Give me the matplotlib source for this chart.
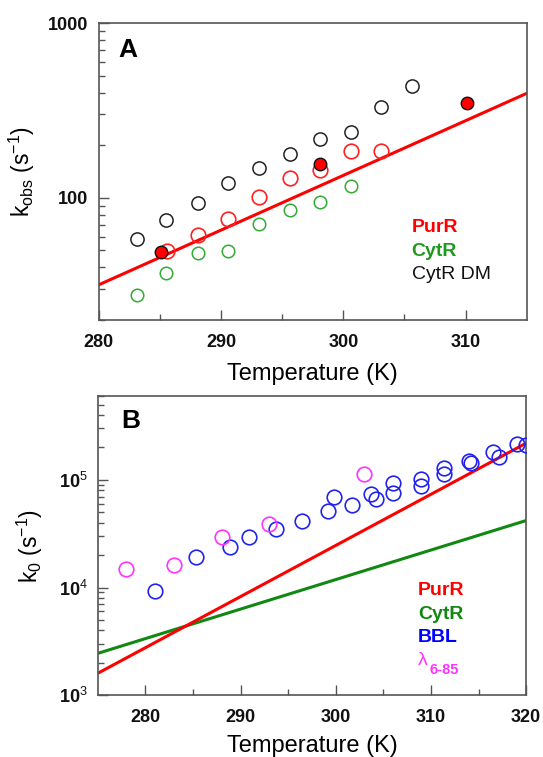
import matplotlib
matplotlib.use("Agg")
import matplotlib.pyplot as plt
from matplotlib.ticker import LogLocator, NullFormatter, FixedLocator, FixedFormatter

plt.rcParams['font.family'] = ['Liberation Sans', 'DejaVu Sans']
plt.rcParams['mathtext.fontset'] = 'custom'
plt.rcParams['mathtext.rm'] = 'Liberation Sans'
plt.rcParams['mathtext.it'] = 'Liberation Sans:italic'
plt.rcParams['mathtext.bf'] = 'Liberation Sans:bold'

# panel A: observed relaxation rates
cytrdm_T = [283.1, 285.5, 288.1, 290.6, 293.1, 295.6, 298.1, 300.6, 303.1, 305.6]
cytrdm_k = [58.4, 74.6, 93.7, 121.7, 148, 178.8, 217.6, 236.6, 329.6, 437.7]
purr_T = [285.6, 288.1, 290.6, 293.1, 295.6, 298.1, 300.6, 303.1]
purr_k = [49.3, 61.0, 75.3, 100.5, 130, 145, 186, 186]
purr_fill_T = [285.1, 298.1, 310.1]
purr_fill_k = [49.1, 156.8, 350.5]
cytr_T = [283.1, 285.5, 288.1, 290.6, 293.1, 295.6, 298.1, 300.6]
cytr_k = [27.7, 37.1, 48.6, 49.7, 70.8, 85.1, 94.1, 117.6]
fitA_T = [280, 315]
fitA_k = [31.8, 396]

# panel B: pre-exponential rates
lam_T = [278.0, 283.0, 288.0, 293.0, 303.0]
lam_k = [14900, 16250, 29400, 38800, 114400]
bbl_T = [281.0, 285.3, 288.9, 290.9, 293.7, 296.5, 299.2, 299.8, 301.7, 303.7,
         304.2, 306.0, 306.0, 309.0, 309.0, 311.4, 311.4, 314.0, 314.2, 316.5,
         317.1, 319.0, 320.0]
bbl_k = [9310, 19100, 24000, 29700, 35100, 41600, 51900, 69000, 58600, 74100,
         66200, 93100, 76200, 101500, 88000, 128400, 113000, 151000, 144800, 183000,
         162500, 214600, 211000]
purrB_T = [275, 320]
purrB_k = [1600, 219000]
cytrB_T = [275, 320]
cytrB_k = [2450, 41900]

legendA = [("PurR", "#ff0000", "bold"), ("CytR", "#1f9a1f", "bold"), ("CytR DM", "#111111", "normal")]
legendB = [("PurR", "#ff0000"), ("CytR", "#118811"), ("BBL", "#0000ff")]

fig = plt.figure(figsize=(5.43, 7.57), dpi=100)
axA = fig.add_axes([0.182, 0.5773, 0.788, 0.3923])
axB = fig.add_axes([0.180, 0.0815, 0.789, 0.3954])

# ---- panel A
axA.plot(fitA_T, fitA_k, color="#ff0000", lw=2.2, zorder=2)
axA.plot(cytr_T, cytr_k, 'o', ms=9, mfc='none', mec="#33aa33", mew=1.1, zorder=3)
axA.plot(cytrdm_T, cytrdm_k, 'o', ms=9.5, mfc='none', mec="#222222", mew=1.1, zorder=3)
axA.plot(purr_T, purr_k, 'o', ms=10.5, mfc='none', mec="#ff2020", mew=1.2, zorder=3)
axA.plot(purr_fill_T, purr_fill_k, 'o', ms=9, mfc="#ff0000", mec="#111111", mew=1.0, zorder=4)
axA.set_yscale('log')
axA.set_xlim(280, 315)
axA.set_ylim(20, 1000)
axA.set_xticks([280, 290, 300, 310])
axA.xaxis.set_minor_locator(FixedLocator([285, 295, 305]))
axA.yaxis.set_major_locator(FixedLocator([100, 1000]))
axA.yaxis.set_major_formatter(FixedFormatter(["100", "1000"]))
axA.yaxis.set_minor_locator(LogLocator(base=10, subs=range(2, 10)))
axA.yaxis.set_minor_formatter(NullFormatter())
axA.text(0.045, 0.909, "A", transform=axA.transAxes, fontsize=19, fontweight='bold', va='center')
for i, (lab, col, w) in enumerate(legendA):
    axA.text(0.731, 0.312 - i * 0.08, lab, transform=axA.transAxes, color=col,
             fontsize=14, fontweight=w, va='center')
axA.set_xlabel("Temperature (K)", fontsize=17, labelpad=9)
axA.set_ylabel(r"k$_{\mathrm{obs}}$ (s$^{\mathrm{-1}}$)", fontsize=16.5)
axA.yaxis.set_label_coords(-0.145, 0.5)

# ---- panel B
axB.plot(cytrB_T, cytrB_k, color="#118811", lw=2.2, zorder=2)
axB.plot(purrB_T, purrB_k, color="#ff0000", lw=2.2, zorder=2)
axB.plot(bbl_T, bbl_k, 'o', ms=10.5, mfc='none', mec="#2222ee", mew=1.2, zorder=3)
axB.plot(lam_T, lam_k, 'o', ms=10.5, mfc='none', mec="#ff33ff", mew=1.2, zorder=3)
axB.set_yscale('log')
axB.set_xlim(275, 320)
axB.set_ylim(1e3, 6e5)
axB.set_xticks([280, 290, 300, 310, 320])
axB.xaxis.set_minor_locator(FixedLocator([285, 295, 305, 315]))
axB.yaxis.set_major_locator(FixedLocator([1e3, 1e4, 1e5]))
axB.yaxis.set_major_formatter(FixedFormatter([r"10$^{3}$", r"10$^{4}$", r"10$^{5}$"]))
axB.yaxis.set_minor_locator(LogLocator(base=10, subs=range(2, 10)))
axB.yaxis.set_minor_formatter(NullFormatter())
axB.text(0.055, 0.915, "B", transform=axB.transAxes, fontsize=19, fontweight='bold', va='center')
for i, (lab, col) in enumerate(legendB):
    axB.text(0.748, 0.35 - i * 0.079, lab, transform=axB.transAxes, color=col,
             fontsize=14, fontweight='bold', va='center')
axB.text(0.748, 0.115, "λ", transform=axB.transAxes, color="#ff33ff", fontsize=14, va='center')
axB.text(0.774, 0.086, "6-85", transform=axB.transAxes, color="#ff33ff", fontsize=10.5,
         fontweight='bold', va='center')
axB.set_xlabel("Temperature (K)", fontsize=17, labelpad=6)
axB.set_ylabel(r"k$_{\mathrm{0}}$ (s$^{\mathrm{-1}}$)", fontsize=16.5)
axB.yaxis.set_label_coords(-0.124, 0.5)

for ax in (axA, axB):
    for s in ax.spines.values():
        s.set_color("#555555")
        s.set_linewidth(1.2)
    ax.tick_params(which='both', direction='in', colors="#555555", labelcolor="#111111",
                   labelsize=13, width=1.0)
    ax.tick_params(axis='x', which='both', pad=10)
    ax.tick_params(axis='y', which='both', pad=7.5)
    ax.tick_params(which='major', length=7)
    ax.tick_params(which='minor', length=4)
    for lbl in ax.get_xticklabels() + ax.get_yticklabels():
        lbl.set_fontweight('bold')

fig.savefig("out.png", dpi=100)
